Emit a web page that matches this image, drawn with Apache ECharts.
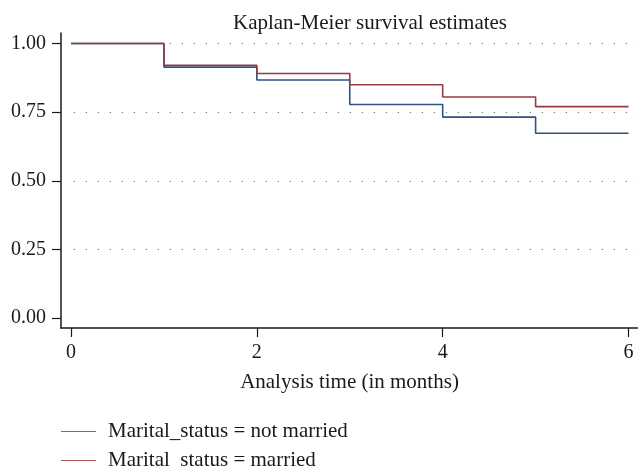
<!DOCTYPE html>
<html>
<head>
<meta charset="utf-8">
<script src="https://cdn.jsdelivr.net/npm/echarts@6/dist/echarts.min.js"></script>
<style>html,body{margin:0;padding:0;background:#fff}#c{width:638px;height:468px}</style>
</head>
<body>
<div id="c"></div>
<script>
var times = [0, 1, 2, 3, 4, 5, 6];
var notMarried = [1.000, 0.914, 0.867, 0.778, 0.732, 0.673, 0.673];
var married = [1.000, 0.921, 0.891, 0.850, 0.805, 0.770, 0.770];
var xTicks = [0, 2, 4, 6];
var yTicks = [0, 0.25, 0.5, 0.75, 1];
var gridValues = [0.25, 0.5, 0.75, 1];
var seriesNames = ['Marital_status = not married', 'Marital_status = married'];
var seriesColors = ['#2f5282', '#9a3841'];
var legendColors = ['#5d77a3', '#b4555e'];

function pairs(xs, ys) { return xs.map(function (x, i) { return [x, ys[i]]; }); }

var FONT = 'Liberation Serif';
var TXT = '#1a1a1a';
function legendFor(i, top) {
  return {
    orient: 'vertical', left: 56, top: top, padding: 5,
    itemWidth: 35, itemHeight: 18, itemGap: 0,
    icon: 'path://M0,9 L35,9 L35,10 L0,10 Z',
    selectedMode: false,
    textStyle: { fontFamily: FONT, fontSize: 21, color: TXT, padding: [0, 0, 0, 7] },
    data: [{ name: seriesNames[i], itemStyle: { color: legendColors[i], borderWidth: 0 } }]
  };
}
var chart = echarts.init(document.getElementById('c'), null, { renderer: 'canvas' });
chart.setOption({
  animation: false,
  backgroundColor: '#ffffff',
  textStyle: { fontFamily: FONT },
  title: {
    text: 'Kaplan-Meier survival estimates',
    left: 365, top: 8, textAlign: 'center',
    textStyle: { fontFamily: FONT, fontSize: 21, fontWeight: 'normal', color: TXT }
  },
  legend: [legendFor(0, 416), legendFor(1, 445)],
  grid: { left: 61, right: 0, top: 33, bottom: 140, containLabel: false },
  xAxis: {
    type: 'value', min: -0.1076, max: 6.102,
    name: 'Analysis time (in months)', nameLocation: 'middle', nameGap: 44,
    nameTextStyle: { fontFamily: FONT, fontSize: 21, color: TXT },
    axisLine: { show: true, onZero: false, lineStyle: { color: TXT, width: 1.5 } },
    axisTick: { show: true, length: 9, customValues: xTicks, lineStyle: { color: TXT, width: 1.2 } },
    axisLabel: { customValues: xTicks, margin: 15, fontFamily: FONT, fontSize: 20, color: TXT },
    splitLine: { show: false }
  },
  yAxis: {
    type: 'value', min: -0.0364, max: 1.0383,
    axisLine: { show: true, onZero: false, lineStyle: { color: TXT, width: 1.5 } },
    axisTick: { show: true, length: 9, customValues: yTicks, lineStyle: { color: TXT, width: 1.2 } },
    axisLabel: {
      customValues: yTicks, margin: 15, fontFamily: FONT, fontSize: 20, color: TXT,
      formatter: function (v) { return v.toFixed(2); }
    },
    splitLine: { show: false }
  },
  series: [
    {
      name: seriesNames[0], type: 'line', step: 'end', showSymbol: false, symbol: 'none',
      data: pairs(times, notMarried),
      lineStyle: { color: seriesColors[0], width: 1.6 }, itemStyle: { color: legendColors[0] },
      z: 3,
      markLine: {
        silent: true, symbol: 'none', label: { show: false },
        lineStyle: { color: '#777', width: 1.2, type: [1.2, 10.8] },
        data: gridValues.map(function (v) { return [{ coord: [0.03, v] }, { coord: [6.102, v] }]; }),
        z: 1
      }
    },
    {
      name: seriesNames[1], type: 'line', step: 'end', showSymbol: false, symbol: 'none',
      data: pairs(times, married),
      lineStyle: { color: seriesColors[1], width: 1.6 }, itemStyle: { color: legendColors[1] },
      z: 4
    }
  ]
});
</script>
</body>
</html>
